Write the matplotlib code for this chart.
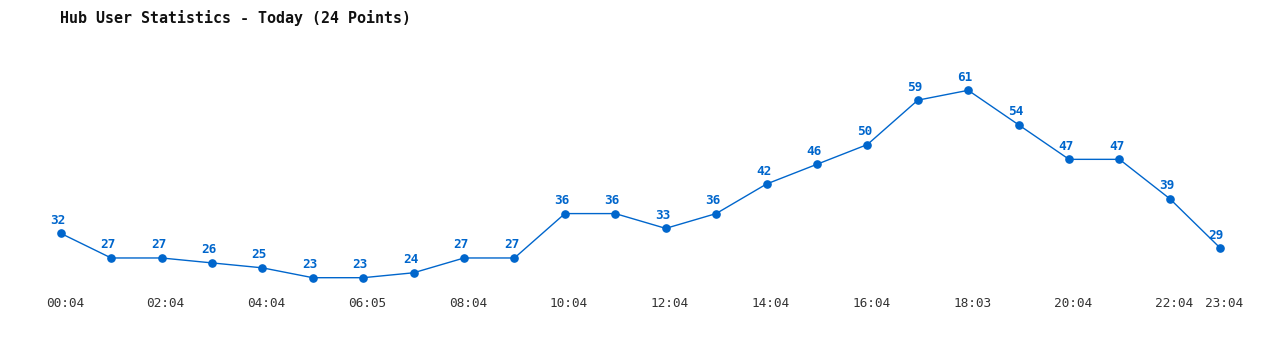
import matplotlib
matplotlib.use("Agg")
import matplotlib.pyplot as plt
from matplotlib.transforms import ScaledTranslation

title = "Hub User Statistics - Today (24 Points)"
values = [32, 27, 27, 26, 25, 23, 23, 24, 27, 27, 36, 36, 33, 36, 42, 46, 50, 59, 61, 54, 47, 47, 39, 29]
tick_positions = [0, 2, 4, 6, 8, 10, 12, 14, 16, 18, 20, 22, 23]
tick_labels = ["00:04", "02:04", "04:04", "06:05", "08:04", "10:04", "12:04",
               "14:04", "16:04", "18:03", "20:04", "22:04", "23:04"]

W, H = 1280, 350
fig = plt.figure(figsize=(W / 100, H / 100), dpi=100)
fig.patch.set_facecolor("white")

left_px, right_px = 60.7, 1220.3
top_px, bottom_px = 90.3, 277.7
ax = fig.add_axes([left_px / W, (H - bottom_px) / H,
                   (right_px - left_px) / W, (bottom_px - top_px) / H])
ax.set_xlim(0, len(values) - 1)
ax.set_ylim(min(values), max(values))
for s in ax.spines.values():
    s.set_visible(False)
ax.set_yticks([])

blue = "#0066cc"
xs = list(range(len(values)))
ax.plot(xs, values, color=blue, lw=1.0, marker="o", markersize=5.2,
        markerfacecolor=blue, markeredgecolor=blue, clip_on=False)

for x, v in zip(xs, values):
    ax.annotate(str(v), (x, v), xytext=(-4 if x == 23 else -3, 13), textcoords="offset pixels",
                ha="center", va="center", color=blue, fontsize=9.2,
                fontweight="bold", family="DejaVu Sans Mono")

ax.set_xticks(tick_positions)
ax.set_xticklabels(tick_labels, family="DejaVu Sans Mono", fontsize=9.2, color="#333333")
ax.tick_params(axis="x", length=0, pad=14)
off = ScaledTranslation(4 / 100, 0, fig.dpi_scale_trans)
for lbl in ax.get_xticklabels():
    lbl.set_transform(lbl.get_transform() + off)

fig.text(60 / W, 1 - 18.3 / H, title, ha="left", va="center",
         family="DejaVu Sans Mono", fontweight="bold", fontsize=10.8, color="#111111")

fig.savefig("out.png", dpi=100, facecolor="white")
